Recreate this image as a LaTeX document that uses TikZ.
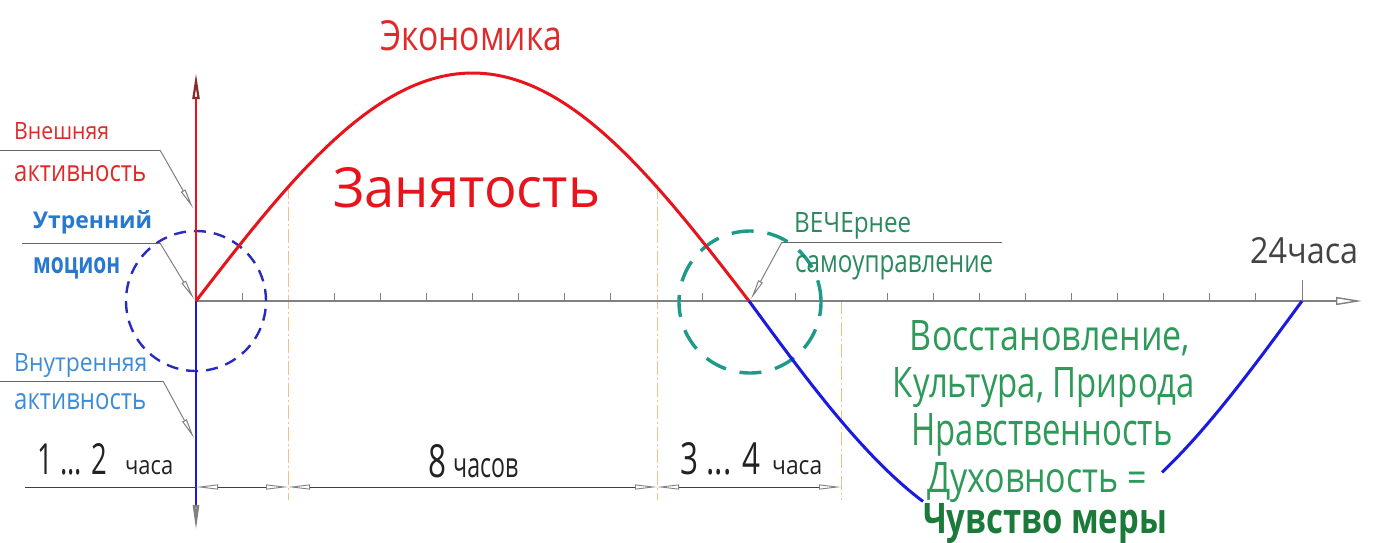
\documentclass[tikz,border=0pt]{standalone}
\usepackage{fontspec}
\setmainfont{Open Sans}
\usepackage{graphicx}
\usetikzlibrary{arrows.meta}
\definecolor{cRed}{HTML}{E8141C}
\definecolor{cTxtRed}{HTML}{E02A2A}
\definecolor{cDarkRed}{HTML}{8A2A2A}
\definecolor{cBlue}{HTML}{1A1AE0}
\definecolor{cCircBlue}{HTML}{2A2AC0}
\definecolor{cTxtBlue}{HTML}{2878D0}
\definecolor{cTxtBlue2}{HTML}{3C8CD8}
\definecolor{cTeal}{HTML}{1E9A88}
\definecolor{cTxtTeal}{HTML}{2A8A5E}
\definecolor{cGreen}{HTML}{2E9A5A}
\definecolor{cDarkGreen}{HTML}{1B7A3A}
\definecolor{cAxis}{HTML}{808080}
\definecolor{cOrange}{HTML}{F3BE8A}
\definecolor{cTxt}{HTML}{222222}
\newcommand\fb[3]{\resizebox{#1pt}{#2pt}{#3}}
\begin{document}
\begin{tikzpicture}[x=1pt,y=-1pt,
  txt/.style={inner sep=0pt, anchor=base west},
  ctxt/.style={inner sep=0pt, anchor=base},
  axisline/.style={draw=cAxis, line width=1.4pt},
  tickline/.style={draw=cAxis, line width=1pt},
  extline/.style={draw=cOrange, line width=1pt, dash pattern=on 14pt off 3pt on 2pt off 3pt},
  dimline/.style={draw=black!75, line width=0.9pt},
  dimarrow/.style={draw=black!75, line width=0.9pt, {Triangle[open,length=22pt,width=5pt,color=gray]}-{Triangle[open,length=22pt,width=5pt,color=gray]}},
  leader/.style={draw=gray, line width=1pt, -{Triangle[open,length=20pt,width=5pt]}},
  shelf/.style={draw=gray!80!black, line width=1pt}]
\useasboundingbox (0,0) rectangle (1376,542);
\fill[white] (0,0) rectangle (1376,542);

% key points
\coordinate (O) at (196,301);
\coordinate (E) at (749,301);
\coordinate (F) at (1302,301);
\coordinate (Xend) at (1362,301);
\coordinate (Ytop) at (196,73);
\coordinate (Ybot) at (196,531);

% extension lines (orange dash-dot)
\coordinate (X1t) at (288,185); \coordinate (X1b) at (288,500);
\coordinate (X2t) at (657,185); \coordinate (X2b) at (657,500);
\coordinate (X3t) at (841,300); \coordinate (X3b) at (841,500);
\draw[extline] (X1t) -- (X1b);
\draw[extline] (X2t) -- (X2b);
\draw[extline] (X3t) -- (X3b);

% horizontal axis with ticks
\draw[axisline, -{Triangle[open,length=26pt,width=8pt,color=gray]}] (O) -- (Xend);
\foreach \i in {1,3,4,5,6,7,8,9,11,13,15,16,17,18,19,20,21,22,23}
  \draw[tickline] ({196+46.083*\i},293) -- ({196+46.083*\i},301);
\draw[tickline] (F) -- (1302,280);

% dashed circles
\draw[cCircBlue, line width=2.4pt, dash pattern=on 12pt off 8pt] (O) circle[radius=70pt];
\draw[cTeal, line width=3.4pt, dash pattern=on 22pt off 14pt] (750,302) circle[radius=71pt];

% vertical axis
\draw[cRed, line width=2.2pt, -{Triangle[open,length=26pt,width=7pt,color=cDarkRed]}] (O) -- (Ytop);
\draw[cBlue, line width=2.6pt, -{Triangle[open,length=26pt,width=6pt,color=gray]}] (O) -- (Ybot);

% curves
\draw[cRed, line width=3pt] plot[domain=196:749, samples=120] (\x, {301-228*sin((\x-196)/553*180)});
\draw[cBlue, line width=3pt] plot[domain=749:923, samples=60] (\x, {301+240*sin((\x-749)/553*180)});
\draw[cBlue, line width=3pt] plot[domain=1162:1302, samples=60] (\x, {301+240*sin((\x-749)/553*180)});

% leaders
\coordinate (L1a) at (0,150);  \coordinate (L1b) at (160,150); \coordinate (L1c) at (193,208);
\coordinate (L2a) at (22,243); \coordinate (L2b) at (160,243); \coordinate (L2c) at (194,299);
\coordinate (L3a) at (0,381);  \coordinate (L3b) at (163,381); \coordinate (L3c) at (194,438);
\coordinate (L4a) at (1002,242); \coordinate (L4b) at (782,242); \coordinate (L4c) at (751,299);
\draw[shelf] (L1a) -- (L1b); \draw[leader] (L1b) -- (L1c);
\draw[shelf] (L2a) -- (L2b); \draw[leader] (L2b) -- (L2c);
\draw[shelf] (L3a) -- (L3b); \draw[leader] (L3b) -- (L3c);
\draw[shelf] (L4a) -- (L4b); \draw[leader] (L4b) -- (L4c);

% dimension line
\coordinate (D00) at (25,487);
\coordinate (D0) at (196,487);
\coordinate (D1) at (288,487);
\coordinate (D2) at (657,487);
\coordinate (D3) at (841,487);
\draw[dimline] (D00) -- (D0);
\draw[dimarrow] (D0) -- (D1);
\draw[dimarrow] (D1) -- (D2);
\draw[dimarrow] (D2) -- (D3);

% texts
\node[txt, text=cTxtRed] (econ) at (380,50) {\fb{182}{30}{Экономика}};
\node[txt, text=cRed] (zan) at (333,207) {\fb{267}{40}{Занятость}};

\node[txt, text=cTxtRed] (vn1) at (14,139) {\fb{95}{17}{Внешняя}};
\node[txt, text=cTxtRed] (vn2) at (14,181) {\fb{132}{16}{активность}};
\node[txt, text=cTxtBlue] (ut1) at (33,228) {\fb{119}{18}{\bfseries Утренний}};
\node[txt, text=cTxtBlue] (ut2) at (33,273) {\fb{87}{16}{\bfseries моцион}};
\node[txt, text=cTxtBlue2] (vt1) at (14,371) {\fb{133}{18}{Внутренняя}};
\node[txt, text=cTxtBlue2] (vt2) at (14,409) {\fb{132}{16}{активность}};
\node[txt, text=cTxtTeal] (ve1) at (794,232) {\fb{117}{20}{ВЕЧЕрнее}};
\node[txt, text=cTxtTeal] (ve2) at (795,272) {\fb{198}{17}{самоуправление}};

\node[txt, text=cTxt] (h12) at (37,474) {\fb{70}{31}{1 ... 2}};
\node[txt, text=cTxt] (h12c) at (125,474) {\fb{48}{14}{часа}};
\node[txt, text=cTxt] (h8) at (428,477) {\fb{18}{33}{8}};
\node[txt, text=cTxt] (h8c) at (453,477) {\fb{65}{19}{часов}};
\node[txt, text=cTxt] (h34) at (680,474) {\fb{80}{32}{3 ... 4}};
\node[txt, text=cTxt] (h34c) at (772,474) {\fb{50}{14}{часа}};
\node[txt, text=cTxt!85] (h24) at (1250,263) {\fb{108}{26}{24часа}};

\node[ctxt, text=cGreen] (g1) at (1050,350) {\fb{280}{30}{Восстановление,}};
\node[ctxt, text=cGreen] (g2) at (1044,397) {\fb{302}{30}{Культура, Природа}};
\node[ctxt, text=cGreen] (g3) at (1042,445) {\fb{261}{32}{Нравственность}};
\node[ctxt, text=cGreen] (g4) at (1037,492) {\fb{220}{30}{Духовность =}};
\node[ctxt, text=cDarkGreen] (g5) at (1045,533) {\fb{244}{30}{\bfseries Чувство меры}};
\end{tikzpicture}
\end{document}
